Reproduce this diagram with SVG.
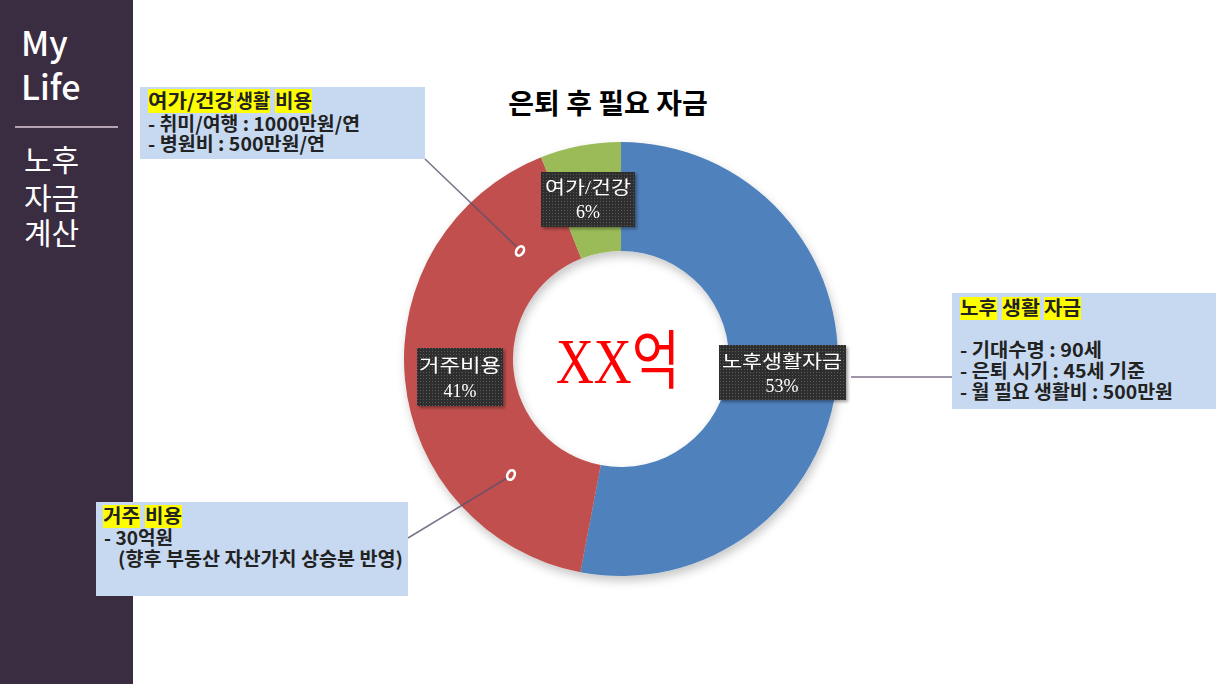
<svg xmlns="http://www.w3.org/2000/svg" width="1216" height="684" viewBox="0 0 1216 684">
<style>
.side{font-family:"Noto Sans CJK KR","Noto Sans",sans-serif;fill:#ffffff}
.box{fill:#c6d9f0}
.hl{fill:#ffff00}
.bt{font-family:"Noto Sans CJK KR","Noto Sans",sans-serif;font-size:19px;font-weight:bold;fill:#222222}
.dl{font-family:"Liberation Serif","Noto Sans CJK KR",serif;font-size:18px;fill:#ffffff;text-anchor:middle}
.lead{stroke:#5e516e;stroke-width:1.6;stroke-opacity:0.8;fill:none}
.mk{fill:none;stroke:#ffffff;stroke-width:2.6}
</style>
<defs>
<filter id="sh" x="-10%" y="-10%" width="125%" height="125%">
<feDropShadow dx="2" dy="5" stdDeviation="5" flood-color="#000" flood-opacity="0.22"/>
</filter>
<filter id="lsh" x="-10%" y="-10%" width="130%" height="140%">
<feDropShadow dx="2" dy="2" stdDeviation="1.5" flood-color="#000" flood-opacity="0.35"/>
</filter>
<pattern id="dots" width="3" height="3" patternUnits="userSpaceOnUse">
<rect width="3" height="3" fill="#2e2e2e"/>
<rect width="1" height="1" fill="#5a5a5a"/>
</pattern>
</defs>
<rect width="1216" height="684" fill="#ffffff"/>
<g id="sidebar">
<rect x="0" y="0" width="133" height="684" fill="#3b2d41"/>
<text class="side" x="21" y="56" font-size="34" font-weight="500">My</text>
<text class="side" x="21" y="100" font-size="34" font-weight="500">Life</text>
<line x1="15" y1="127" x2="118" y2="127" stroke="#b3a3b3" stroke-width="2"/>
<text class="side" x="24" y="171" font-size="30">노후</text>
<text class="side" x="24" y="209" font-size="30">자금</text>
<text class="side" x="24" y="244" font-size="30">계산</text>
</g>
<g id="title">
<text x="608" y="114" text-anchor="middle" font-family="'Noto Sans CJK KR','Noto Sans',sans-serif" font-size="28" font-weight="bold" fill="#000000">은퇴 후 필요 자금</text>
</g>
<g id="donut" filter="url(#sh)">
<path id="slice-blue" d="M621,142 A217,217 0 1 1 580.34,572.16 L600.76,465.09 A108,108 0 1 0 621,251 Z" fill="#4f81bd"/>
<path id="slice-red" d="M580.34,572.16 A217,217 0 0 1 541.12,157.24 L581.24,258.58 A108,108 0 0 0 600.76,465.09 Z" fill="#c0504d"/>
<path id="slice-green" d="M541.12,157.24 A217,217 0 0 1 621,142 L621,251 A108,108 0 0 0 581.24,258.58 Z" fill="#9bbb59"/>
</g>
<g id="center-label">
<text x="618" y="383" font-family="'Liberation Serif','Noto Sans CJK KR',serif" font-size="64" fill="#ff0000" text-anchor="middle" textLength="124" lengthAdjust="spacingAndGlyphs">XX억</text>
</g>
<g id="connectors">
<line class="lead" x1="425" y1="159" x2="517" y2="247"/>
<line class="lead" x1="851" y1="377" x2="952" y2="377"/>
<line class="lead" x1="408" y1="538" x2="507" y2="478"/>
</g>
<g id="markers">
<ellipse class="mk" cx="520" cy="251" rx="3.5" ry="5" transform="rotate(35 520 251)"/>
<ellipse class="mk" cx="846" cy="377" rx="3" ry="6"/>
<ellipse class="mk" cx="511" cy="475" rx="3.5" ry="5" transform="rotate(25 511 475)"/>
</g>
<g id="label-leisure" filter="url(#lsh)">
<rect x="541" y="172" width="94" height="55" fill="url(#dots)"/>
<text class="dl" x="588" y="194" textLength="86" lengthAdjust="spacingAndGlyphs">여가/건강</text>
<text class="dl" x="588" y="218">6%</text>
</g>
<g id="label-living" filter="url(#lsh)">
<rect x="719" y="345" width="127" height="55" fill="url(#dots)"/>
<text class="dl" x="782" y="368" textLength="120" lengthAdjust="spacingAndGlyphs">노후생활자금</text>
<text class="dl" x="782" y="392">53%</text>
</g>
<g id="label-housing" filter="url(#lsh)">
<rect x="417" y="348" width="86" height="58" fill="url(#dots)"/>
<text class="dl" x="460" y="372" textLength="82" lengthAdjust="spacingAndGlyphs">거주비용</text>
<text class="dl" x="460" y="397">41%</text>
</g>
<g id="note-leisure">
<rect class="box" x="140" y="87" width="285" height="72"/>
<rect class="hl" x="148" y="89" width="87" height="24"/>
<rect class="hl" x="236" y="89" width="34" height="24"/>
<rect class="hl" x="275" y="89" width="37" height="24"/>
<text class="bt" x="148" y="108" textLength="86" lengthAdjust="spacingAndGlyphs">여가/건강</text>
<text class="bt" x="236" y="108" textLength="34" lengthAdjust="spacingAndGlyphs">생활</text>
<text class="bt" x="275" y="108" textLength="37" lengthAdjust="spacingAndGlyphs">비용</text>
<text class="bt" x="148" y="131" textLength="212" lengthAdjust="spacingAndGlyphs">- 취미/여행 : 1000만원/연</text>
<text class="bt" x="148" y="151" textLength="177" lengthAdjust="spacingAndGlyphs">- 병원비 : 500만원/연</text>
</g>
<g id="note-living">
<rect class="box" x="952" y="293" width="264" height="116"/>
<rect class="hl" x="960" y="297" width="37" height="23"/>
<rect class="hl" x="1002" y="297" width="38" height="23"/>
<rect class="hl" x="1044" y="297" width="37" height="23"/>
<text class="bt" x="960" y="315" textLength="37" lengthAdjust="spacingAndGlyphs">노후</text>
<text class="bt" x="1002" y="315" textLength="38" lengthAdjust="spacingAndGlyphs">생활</text>
<text class="bt" x="1044" y="315" textLength="37" lengthAdjust="spacingAndGlyphs">자금</text>
<text class="bt" x="960" y="357" textLength="142" lengthAdjust="spacingAndGlyphs">- 기대수명 : 90세</text>
<text class="bt" x="960" y="378" textLength="185" lengthAdjust="spacingAndGlyphs">- 은퇴 시기 : 45세 기준</text>
<text class="bt" x="960" y="399" textLength="213" lengthAdjust="spacingAndGlyphs">- 월 필요 생활비 : 500만원</text>
</g>
<g id="note-housing">
<rect class="box" x="96" y="502" width="312" height="94"/>
<rect class="hl" x="103" y="505" width="37" height="23"/>
<rect class="hl" x="145" y="505" width="37" height="23"/>
<text class="bt" x="103" y="523" textLength="37" lengthAdjust="spacingAndGlyphs">거주</text>
<text class="bt" x="145" y="523" textLength="37" lengthAdjust="spacingAndGlyphs">비용</text>
<text class="bt" x="104" y="545" textLength="69" lengthAdjust="spacingAndGlyphs">- 30억원</text>
<text class="bt" x="118" y="566" textLength="285" lengthAdjust="spacingAndGlyphs">(향후 부동산 자산가치 상승분 반영)</text>
</g>
</svg>
